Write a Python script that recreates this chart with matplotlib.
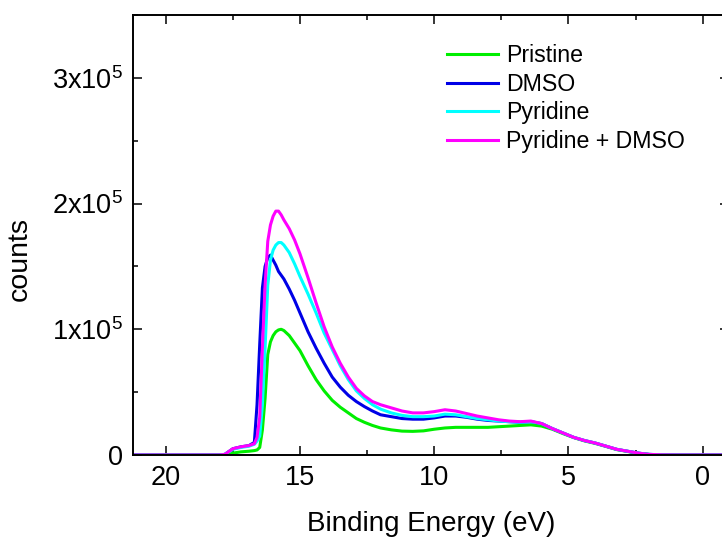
import matplotlib
matplotlib.use('Agg')
import matplotlib.pyplot as plt
from matplotlib.ticker import MultipleLocator

plt.rcParams['font.family'] = ['Liberation Sans', 'DejaVu Sans']
plt.rcParams['mathtext.fontset'] = 'custom'
plt.rcParams['mathtext.rm'] = 'Liberation Sans'
plt.rcParams['mathtext.it'] = 'Liberation Sans'

# Energia de enlace (eV)
energia = [21.2, 19.0, 18.0, 17.8, 17.7, 17.5, 17.2, 16.9, 16.7, 16.6,
           16.5, 16.4, 16.3, 16.2, 16.1, 16.0, 15.9, 15.8, 15.7, 15.6,
           15.4, 15.2, 15.0, 14.7, 14.4, 14.1, 13.8, 13.5, 13.2, 12.9,
           12.6, 12.3, 12.0, 11.6, 11.2, 10.8, 10.4, 10.0, 9.6, 9.2,
           8.8, 8.4, 8.0, 7.6, 7.2, 6.8, 6.4, 6.0, 5.6, 5.2,
           4.8, 4.4, 4.0, 3.6, 3.2, 2.8, 2.4, 2.0, 1.5, 1.0,
           0.0, -1.0]

# Cuentas en miles
pristine = [0, 0, 0, 0, 0, 1.5, 2.5, 3, 3.5, 4,
            6, 20, 45, 80, 90, 95, 98, 99.5, 100, 99,
            95, 89, 83, 71, 60, 51, 43.5, 38, 33.5, 29,
            26, 23.5, 21.5, 20, 19, 18.8, 19.2, 20.5, 21.5, 22,
            22, 22, 22, 22.5, 23, 23.5, 24, 23, 20.5, 17,
            13.8, 11.2, 9.2, 6.8, 4.3, 2.8, 1.3, 0.4, 0.1, 0,
            0, 0]

dmso = [0, 0, 0, 0.5, 2, 5, 6.5, 7.5, 10, 40,
        88, 133, 150, 157, 159, 155, 151, 146, 143, 140,
        132, 123, 113, 98, 85, 73, 62, 54, 47.5, 42.5,
        38.5, 35, 32, 30.5, 29, 28.5, 28.5, 29.5, 31, 31,
        30, 28.5, 27.5, 27, 26.5, 26, 26.5, 25, 21, 17.5,
        14, 11.5, 9.5, 7, 4.5, 3, 1.5, 0.5, 0.1, 0,
        0, 0]

pyridine = [0, 0, 0, 0.5, 2, 4.5, 6, 7, 8.5, 11,
            15, 40, 85, 135, 155, 163, 167, 169, 169, 167,
            161, 152, 142, 128, 113, 97, 84, 71, 60, 51,
            45, 40, 36.5, 33.5, 31.5, 30.5, 30.5, 31, 32.5, 32,
            30.5, 29, 28, 27, 26.5, 26, 26.5, 25, 21, 17.5,
            14, 11.5, 9.5, 7, 4.5, 3, 1.5, 0.5, 0.1, 0,
            0, 0]

pyridine_dmso = [0, 0, 0, 0.5, 2, 5, 6.5, 7.5, 9, 14,
                 30, 85, 135, 170, 183, 190, 194, 194, 191, 187,
                 180, 171, 160, 141, 121, 102, 86, 73, 62, 53,
                 47, 42.5, 40, 37.5, 35, 33.5, 33.5, 34.5, 36, 35,
                 33, 31, 29.5, 28, 27, 26.5, 27, 25, 21, 17.5,
                 14, 11.5, 9.5, 7, 4.5, 3, 1.5, 0.5, 0.1, 0,
                 0, 0]

series = [
    (pristine, 'Pristine', '#00ee00'),
    (dmso, 'DMSO', '#0000e6'),
    (pyridine, 'Pyridine', '#00ffff'),
    (pyridine_dmso, 'Pyridine + DMSO', '#ff00ff'),
]


def main():
    fig = plt.figure(figsize=(7.22, 5.4), dpi=100)
    ax = fig.add_axes([133 / 722, 85 / 540, 596 / 722, 440 / 540])

    for valores, nombre, color in series:
        ax.plot(energia, [v * 1000 for v in valores], color=color,
                linewidth=2.2, label=nombre)

    ax.set_xlim(21.22, -0.98)
    ax.set_ylim(0, 3.5e5)

    ax.set_xticks([20, 15, 10, 5, 0])
    ax.xaxis.set_minor_locator(MultipleLocator(2.5))
    ax.set_yticks([0, 1e5, 2e5, 3e5],
                  ['0', r'1x10$^5$', r'2x10$^5$', r'3x10$^5$'])
    ax.yaxis.set_minor_locator(MultipleLocator(0.5e5))

    ax.tick_params(which='both', direction='in', top=True, right=True,
                   width=1.1, labelsize=19.5)
    ax.tick_params(which='major', length=6.5, pad=7.5)
    ax.tick_params(which='minor', length=3.6)
    for lado in ax.spines.values():
        lado.set_linewidth(1.4)

    ax.set_xlabel('Binding Energy (eV)', fontsize=20)
    ax.set_ylabel('counts', fontsize=20.5)
    ax.yaxis.set_label_coords(-0.168, 0.445)
    ax.xaxis.set_label_coords(0.5, -0.127)

    ax.legend(loc='upper left', bbox_to_anchor=(447 / 722, 1 - 44 / 540),
              bbox_transform=fig.transFigure, frameon=False, fontsize=16.7,
              handlelength=2.2, handletextpad=0.33, labelspacing=0.245,
              borderaxespad=0, borderpad=0)

    fig.savefig('out.png', dpi=100)


if __name__ == '__main__':
    main()
